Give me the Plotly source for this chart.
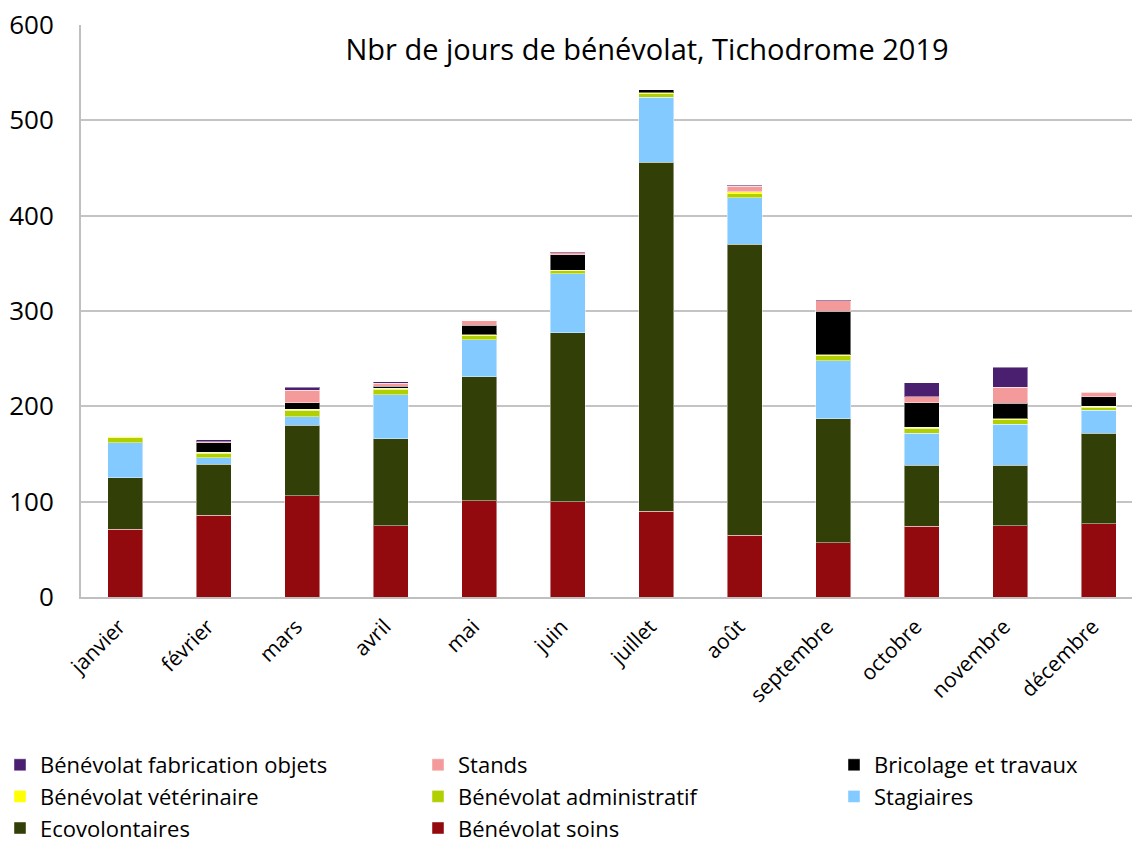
import plotly.graph_objects as go

months = ["janvier", "février", "mars", "avril", "mai", "juin", "juillet",
          "août", "septembre", "octobre", "novembre", "décembre"]

soins = [71, 86, 106, 75, 101, 100, 90, 65, 57, 74, 75, 77]
ecovolontaires = [54, 53, 74, 91, 130, 177, 366, 305, 130, 64, 63, 95]
stagiaires = [37, 7, 9, 46, 39, 62, 68, 49, 61, 34, 43, 24]
administratif = [5, 5, 7, 6, 4, 3, 4, 4, 5, 5, 5, 3]
veterinaire = [1, 1, 1, 1, 1, 1, 1, 2, 1, 1, 1, 1]
bricolage = [0, 10, 7, 2, 10, 16, 3, 0, 46, 26, 16, 10]
stands = [0, 1, 13, 3, 5, 2, 0, 6, 11, 6, 17, 5]
fabrication = [0, 2, 3, 2, 0, 1, 0, 1, 1, 15, 21, 0]

y_ticks = [0, 100, 200, 300, 400, 500, 600]

series = [
    ("Bénévolat soins", soins, "#930A0E", "legend2"),
    ("Ecovolontaires", ecovolontaires, "#323F06", "legend"),
    ("Stagiaires", stagiaires, "#82CAFF", "legend3"),
    ("Bénévolat administratif", administratif, "#B2D000", "legend2"),
    ("Bénévolat vétérinaire", veterinaire, "#FFFF00", "legend"),
    ("Bricolage et travaux", bricolage, "#000000", "legend3"),
    ("Stands", stands, "#F49A9A", "legend2"),
    ("Bénévolat fabrication objets", fabrication, "#4B1F6F", "legend"),
]

fig = go.Figure()
for name, vals, color, leg in series:
    fig.add_trace(go.Bar(
        x=months, y=vals, name=name, legend=leg, legendgroup=name,
        marker=dict(color=color, line=dict(color="rgba(255,255,255,0.45)", width=1)),
    ))

W, H = 1132, 843
ml, mr, mt, mb = 81, 0, 25, 246
pw = W - ml - mr
ph = H - mt - mb

def px_x(p):
    return (p - ml) / pw

def px_y(p):
    return (H - mb - p) / ph

leg_font = dict(family="Open Sans", size=22, color="#000000")
leg_common = dict(orientation="v", xanchor="left", yanchor="top",
                  y=px_y(744), font=leg_font, traceorder="reversed",
                  tracegroupgap=0, maxheight=300,
                  bgcolor="rgba(0,0,0,0)", borderwidth=0)

fig.update_layout(
    width=W, height=H,
    margin=dict(l=ml, r=mr, t=mt, b=mb, autoexpand=False),
    barmode="stack", bargap=0.6,
    plot_bgcolor="white", paper_bgcolor="white",
    font=dict(family="Open Sans", color="#000000"),
    title=dict(text="Nbr de jours de bénévolat, Tichodrome 2019",
               font=dict(family="Open Sans", size=29, color="#000000"),
               xref="paper", x=px_x(647), xanchor="center",
               yref="container", y=1 - 50 / H, yanchor="middle"),
    xaxis=dict(type="category", range=[-0.5, 11.5 - (1143 - 1132) / 88.5],
               tickangle=-45, tickfont=dict(family="Open Sans", size=21, color="#000000"),
               ticklabelshift=-6, ticklabelstandoff=7,
               showline=True, linecolor="#BFBFBF", linewidth=2,
               ticks="", showgrid=False),
    yaxis=dict(range=[0, 600], tickvals=y_ticks,
               tickfont=dict(family="Open Sans", size=26, color="#000000"),
               showgrid=True, gridcolor="#C4C4C4", gridwidth=1.5,
               showline=True, linecolor="#BFBFBF", linewidth=2,
               ticks="", ticklabelstandoff=20, zeroline=False),
    legend=dict(x=px_x(0), **leg_common),
    legend2=dict(x=px_x(418), **leg_common),
    legend3=dict(x=px_x(834), **leg_common),
)

fig.write_html("out.html", config={"displayModeBar": False},
               post_script="document.body.style.margin='0';document.body.style.padding='0';")
